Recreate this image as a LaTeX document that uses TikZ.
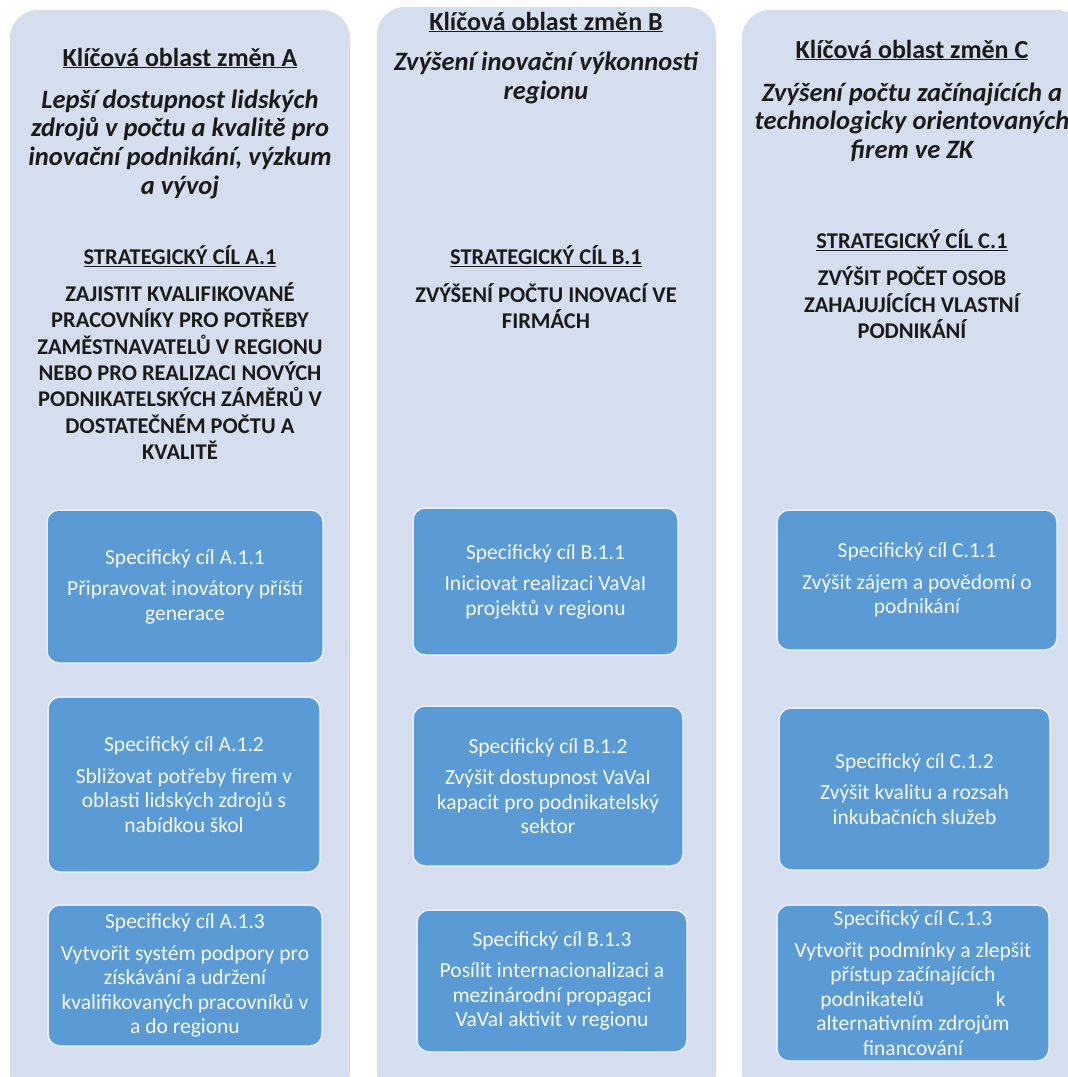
\documentclass[tikz,border=0pt]{standalone}
\usepackage{fontspec}
\setmainfont{Carlito}
\definecolor{areabg}{HTML}{D5DEEF}
\definecolor{goalblue}{HTML}{5B9BD5}
\definecolor{ink}{HTML}{1A1A1A}
\tikzset{every picture/.style = {x=1pt, y=-1pt}}
\tikzset{area/.style = {fill=areabg, rounded corners=28pt}}
\tikzset{head/.style = {text=ink, align=center, font=\bfseries\fontsize{26}{29}\selectfont}}
\tikzset{aim/.style = {text=ink, align=center, font=\bfseries\itshape\fontsize{26.5}{28.7}\selectfont}}
\tikzset{capsaim/.style = {text=ink, align=center, font=\bfseries\fontsize{22.5}{26.4}\selectfont}}
\tikzset{goal/.style = {draw=white!85!goalblue, line width=1.5pt, fill=goalblue, rounded corners=12pt,
  text=white!94!goalblue, align=center, inner sep=0pt, font=\fontsize{21.5}{24.5}\selectfont}}

\begin{document}
\begin{tikzpicture}
  \useasboundingbox (0, 0) rectangle (1068, 1077);
  \clip (0, 0) rectangle (1068, 1077);
  % key areas
  \fill[area] (10, 10) rectangle (350, 1100);
  \fill[area] (377, 7) rectangle (716, 1100);
  \fill[area] (742, 10) rectangle (1085, 1100);
  % area A
  \node(headA)[head] at (180, 58) {\underline{Klíčová oblast změn A}};
  \node(aimA)[aim] at (180, 144)
    {Lepší dostupnost lidských\\zdrojů v počtu a kvalitě pro\\inovační podnikání, výzkum\\a vývoj};
  \node(stratA)[capsaim] at (180, 256) {\underline{STRATEGICKÝ CÍL A.1}};
  \node(goalA)[capsaim] at (180, 371)
    {ZAJISTIT KVALIFIKOVANÉ\\PRACOVNÍKY PRO POTŘEBY\\ZAMĚSTNAVATELŮ V REGIONU\\NEBO PRO REALIZACI NOVÝCH\\PODNIKATELSKÝCH ZÁMĚRŮ V\\DOSTATEČNÉM POČTU A\\KVALITĚ};
  % area B
  \node(headB)[head] at (546, 22) {\underline{Klíčová oblast změn B}};
  \node(aimB)[aim] at (546, 78) {Zvýšení inovační výkonnosti\\regionu};
  \node(stratB)[capsaim] at (546, 256) {\underline{STRATEGICKÝ CÍL B.1}};
  \node(goalB)[capsaim] at (546, 306) {ZVÝŠENÍ POČTU INOVACÍ VE\\FIRMÁCH};
  % area C
  \node(headC)[head] at (912, 50) {\underline{Klíčová oblast změn C}};
  \node(aimC)[aim] at (912, 122)
    {Zvýšení počtu začínajících a\\technologicky orientovaných\\firem ve ZK};
  \node(stratC)[capsaim] at (912, 240) {\underline{STRATEGICKÝ CÍL C.1}};
  \node(goalC)[capsaim] at (912, 303) {ZVÝŠIT POČET OSOB\\ZAHAJUJÍCÍCH VLASTNÍ\\PODNIKÁNÍ};
  % specific goals
  \node(a11)[goal, minimum width=276, minimum height=153] at (185, 586.5)
    {Specifický cíl A.1.1\\[7pt]Připravovat inovátory příští\\generace};
  \node(a12)[goal, minimum width=272, minimum height=175] at (184, 784.5)
    {Specifický cíl A.1.2\\[7pt]Sbližovat potřeby firem v\\oblasti lidských zdrojů s\\nabídkou škol};
  \node(a13)[goal, minimum width=274, minimum height=141] at (185, 975.5)
    {Specifický cíl A.1.3\\[7pt]Vytvořit systém podpory pro\\získávání a udržení\\kvalifikovaných pracovníků v\\a do regionu};
  \node(b11)[goal, minimum width=265, minimum height=147] at (545.5, 581.5)
    {Specifický cíl B.1.1\\[7pt]Iniciovat realizaci VaVaI\\projektů v regionu};
  \node(b12)[goal, minimum width=270, minimum height=160] at (548, 786)
    {Specifický cíl B.1.2\\[7pt]Zvýšit dostupnost VaVaI\\kapacit pro podnikatelský\\sektor};
  \node(b13)[goal, minimum width=270, minimum height=142] at (552, 981)
    {Specifický cíl B.1.3\\[7pt]Posílit internacionalizaci a\\mezinárodní propagaci\\VaVaI aktivit v regionu};
  \node(c11)[goal, minimum width=280, minimum height=140] at (917, 580)
    {Specifický cíl C.1.1\\[7pt]Zvýšit zájem a povědomí o\\podnikání};
  \node(c12)[goal, minimum width=271, minimum height=162] at (914.5, 789)
    {Specifický cíl C.1.2\\[7pt]Zvýšit kvalitu a rozsah\\inkubačních služeb};
  \node(c13)[goal, minimum width=272, minimum height=156] at (913, 983)
    {Specifický cíl C.1.3\\[7pt]Vytvořit podmínky a zlepšit\\přístup začínajících\\podnikatelů\hspace{72pt}k\\alternativním zdrojům\\financování};
\end{tikzpicture}
\end{document}
